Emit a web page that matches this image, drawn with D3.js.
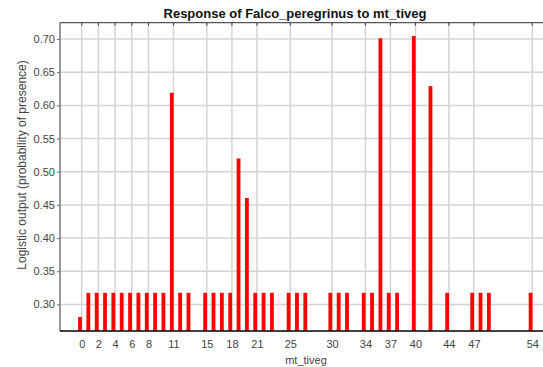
<!DOCTYPE html>
<html>
<head>
<meta charset="utf-8">
<script src="https://cdn.jsdelivr.net/npm/d3@7"></script>
<style>
  html, body { margin: 0; padding: 0; background: #fff; }
  svg { display: block; font-family: "Liberation Sans", Arial, sans-serif; }
</style>
</head>
<body>
<svg id="chart" width="543" height="367"></svg>
<script>
// Response curve of the model: logistic output per mt_tiveg class
const classes = [0,1,2,3,4,5,6,7,8,9,10,11,12,13,15,16,17,18,19,20,21,22,23,25,26,27,30,31,32,34,35,36,37,38,40,42,44,47,48,49,54];
const logistic = [0.281,0.3175,0.3175,0.3175,0.3175,0.3175,0.3175,0.3175,0.3175,0.3175,0.3175,0.619,0.3175,0.3175,
  0.3175,0.3175,0.3175,0.3175,0.520,0.4605,0.3175,0.3175,0.3175,0.3175,0.3175,0.3175,0.3175,0.3175,0.3175,
  0.3175,0.3175,0.701,0.3175,0.3175,0.7045,0.629,0.3175,0.3175,0.3175,0.3175,0.3175];
const xTicks = [0,2,4,6,8,11,15,18,21,25,30,34,37,40,44,47,54];
const yTicks = [0.30,0.35,0.40,0.45,0.50,0.55,0.60,0.65,0.70];

const svg = d3.select("#chart");
const plotL = 60, plotR = 543, plotT = 22.7, plotB = 331;

const x = d3.scaleLinear().domain([0, 54]).range([81.7, 532.3]);
const y = d3.scaleLinear().domain([0.26, 0.7246]).range([plotB, plotT]);

svg.append("clipPath").attr("id", "plot")
  .append("rect").attr("x", plotL).attr("y", plotT).attr("width", plotR - plotL).attr("height", plotB - plotT);

// grid
const grid = svg.append("g").attr("clip-path", "url(#plot)");
grid.selectAll("line.h").data(yTicks).join("line").attr("class", "h")
  .attr("x1", plotL).attr("x2", plotR)
  .attr("y1", d => y(d)).attr("y2", d => y(d))
  .attr("stroke", "#d4d4d4").attr("stroke-width", 1.5);
grid.selectAll("line.v").data(xTicks).join("line").attr("class", "v")
  .attr("x1", d => x(d)).attr("x2", d => x(d))
  .attr("y1", plotT).attr("y2", plotB)
  .attr("stroke", "#d4d4d4").attr("stroke-width", 1.5);

// bars
svg.append("g").attr("clip-path", "url(#plot)")
  .selectAll("rect").data(classes).join("rect")
  .attr("x", d => x(d) - 3.6)
  .attr("width", 3.8)
  .attr("y", (d, i) => y(logistic[i]))
  .attr("height", (d, i) => plotB - y(logistic[i]))
  .attr("fill", "#ff0000");

// top border with tick marks
svg.append("line").attr("x1", plotL).attr("x2", plotR).attr("y1", plotT).attr("y2", plotT)
  .attr("stroke", "#555").attr("stroke-width", 1.2);
svg.append("g").selectAll("line").data(xTicks).join("line")
  .attr("x1", d => x(d)).attr("x2", d => x(d))
  .attr("y1", plotT).attr("y2", plotT + 3)
  .attr("stroke", "#444").attr("stroke-width", 1);

// y axis
const yAxis = svg.append("g").attr("transform", `translate(${plotL},0)`)
  .call(d3.axisLeft(y).tickValues(yTicks).tickFormat(d3.format(".2f")).tickSize(3).tickPadding(2));
yAxis.select(".domain").remove();
yAxis.selectAll(".tick line").attr("stroke", "#666");
yAxis.selectAll("text").attr("font-size", 11).attr("fill", "#444")
  .attr("font-family", "Liberation Sans, Arial, sans-serif");
svg.append("line").attr("x1", plotL).attr("x2", plotL).attr("y1", plotT).attr("y2", plotB)
  .attr("stroke", "#777").attr("stroke-width", 1.5);

// x axis
const xAxis = svg.append("g").attr("transform", `translate(0,${plotB})`)
  .call(d3.axisBottom(x).tickValues(xTicks).tickFormat(d3.format("d")).tickSize(0).tickPadding(9));
xAxis.select(".domain").remove();
xAxis.selectAll("text").attr("font-size", 11).attr("fill", "#444")
  .attr("font-family", "Liberation Sans, Arial, sans-serif");
svg.append("line").attr("x1", plotL).attr("x2", plotR).attr("y1", plotB).attr("y2", plotB)
  .attr("stroke", "#000").attr("stroke-width", 1.5);

// labels
svg.append("text").attr("x", 295).attr("y", 18).attr("text-anchor", "middle")
  .attr("font-size", 13).attr("font-weight", "bold").attr("fill", "#111")
  .text("Response of Falco_peregrinus to mt_tiveg");
svg.append("text").attr("x", 306).attr("y", 364).attr("text-anchor", "middle")
  .attr("font-size", 11).attr("fill", "#444").text("mt_tiveg");
svg.append("text").attr("transform", "translate(26,165) rotate(-90)").attr("text-anchor", "middle")
  .attr("font-size", 12).attr("fill", "#444").text("Logistic output (probability of presence)");
</script>
</body>
</html>
